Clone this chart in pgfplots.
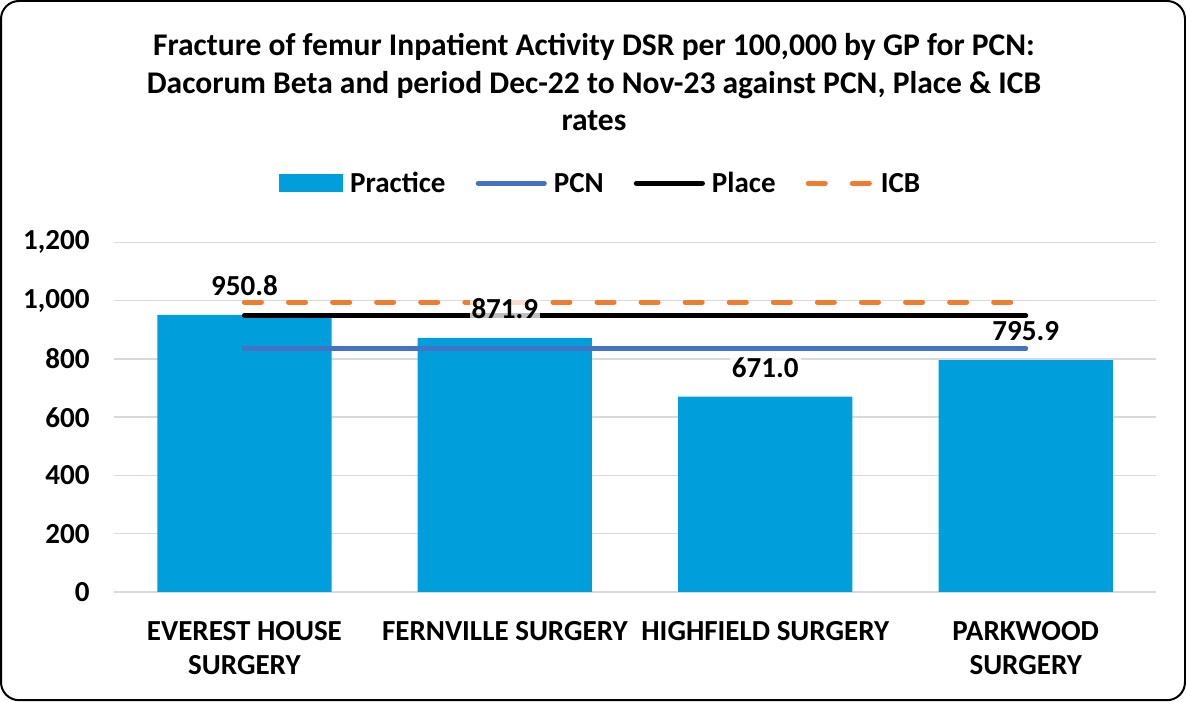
\documentclass[border=0pt]{standalone}
\usepackage{pgfplots}
\pgfplotsset{compat=1.18}
\usepackage{fontspec}
\setmainfont{Carlito}
\definecolor{barblue}{RGB}{0,158,219}
\definecolor{pcnblue}{RGB}{68,114,196}
\definecolor{icborange}{RGB}{237,125,49}
\definecolor{gridgray}{RGB}{217,217,217}
\newcommand{\cfont}{\fontsize{29}{34}\selectfont\bfseries}
\pgfplotsset{
  linelegend/.style={legend image code/.code={\draw[##1] (0pt,0pt) -- (66pt,0pt);}},
  dashlegend/.style={legend image code/.code={\draw[##1] (3pt,0pt) -- (66pt,0pt);}},
  barlegend/.style={legend image code/.code={\fill[barblue] (0pt,-9pt) rectangle (64pt,9pt);}},
}
\begin{document}
\begin{tikzpicture}[x=1pt,y=1pt]
\draw[line width=2pt, rounded corners=18pt] (2,2) rectangle (1184,700);
\node[font={\fontsize{31.5}{37.5}\selectfont\bfseries}, align=center] at (594,619)
  {Fracture of femur Inpatient Activity DSR per 100,000 by GP for PCN:\\
   Dacorum Beta and period Dec-22 to Nov-23 against PCN, Place \& ICB\\
   rates};
\begin{axis}[
  at={(115pt,110pt)}, anchor=south west,
  width=1040pt, height=349pt, scale only axis,
  xmin=-0.5, xmax=3.5, ymin=0, ymax=1200,
  ytick={0,200,...,1200},
  xtick={0,1,2,3},
  xticklabels={{EVEREST HOUSE\\SURGERY},{FERNVILLE SURGERY},{HIGHFIELD SURGERY},{PARKWOOD\\SURGERY}},
  xticklabel style={align=center, font=\cfont, yshift=-26pt},
  yticklabel style={font=\cfont, xshift=-21pt},
  ymajorgrids, grid style={gridgray, line width=1.5pt},
  axis line style={draw=none},
  major tick length=0pt,
  tick style={draw=none},
  /pgf/number format/assume math mode=true,
  /pgf/number format/1000 sep={,},
  legend columns=4,
  legend style={at={(0.467,1.169)}, anchor=center, draw=none, fill=none,
    font=\cfont, /tikz/every even column/.append style={column sep=28pt},
    /tikz/every odd column/.append style={column sep=5pt}},
]
\addplot[ybar, fill=barblue, draw=none, bar width=174pt, barlegend]
  coordinates {(0,950.8) (1,871.9) (2,671.0) (3,795.9)};
\addlegendentry{Practice}
\addplot[pcnblue, line width=5pt, line cap=round, mark=none, linelegend]
  coordinates {(0,835.5) (1,835.5) (2,835.5) (3,835.5)};
\addlegendentry{PCN}
\addplot[black, line width=5pt, line cap=round, mark=none, linelegend]
  coordinates {(0,949) (1,949) (2,949) (3,949)};
\addlegendentry{Place}
\addplot[icborange, line width=5pt, line cap=round, mark=none,
  dash pattern=on 17pt off 27pt, dashlegend]
  coordinates {(0,995) (1,995) (2,995) (3,995)};
\addlegendentry{ICB}
\addplot[draw=none, mark=none, forget plot, nodes near coords, point meta=y,
  every node near coord/.append style={font=\cfont, fill=white, fill opacity=0.75,
    text opacity=1, anchor=center, yshift=29pt, inner sep=2pt},
  /pgf/number format/.cd, fixed, fixed zerofill, precision=1]
  coordinates {(0,950.8) (1,871.9) (2,671.0) (3,795.9)};
\end{axis}
\end{tikzpicture}
\end{document}
